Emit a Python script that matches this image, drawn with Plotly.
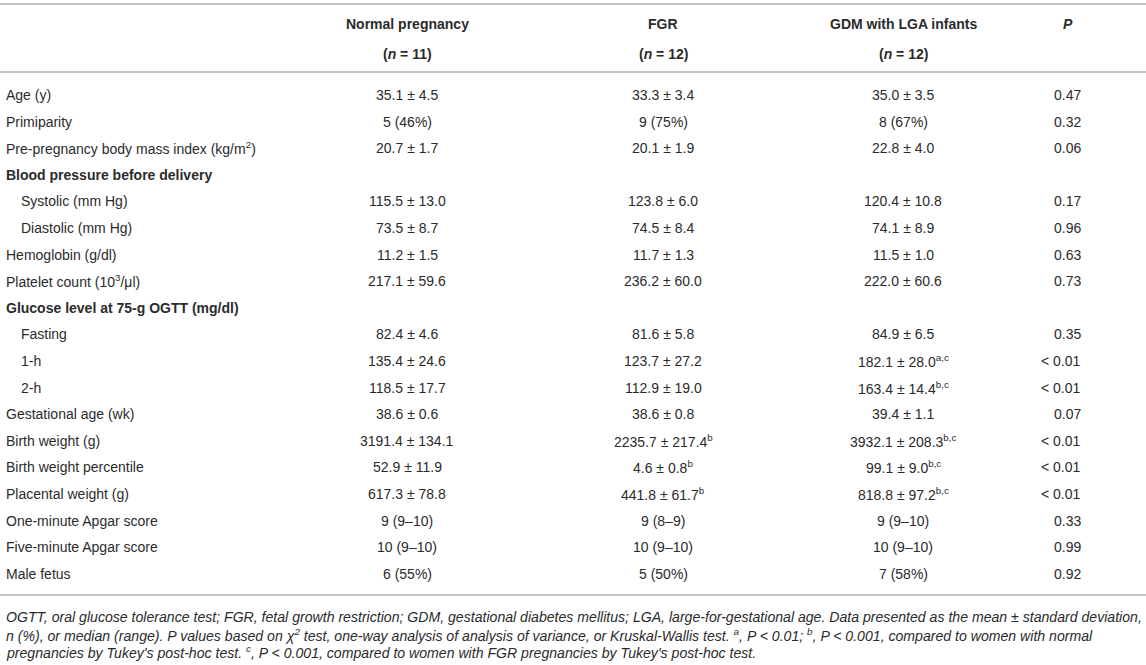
import plotly.graph_objects as go

# %% table content
col_headers = ["Normal pregnancy", "FGR", "GDM with LGA infants"]
col_counts = ["(<i>n</i> = 11)", "(<i>n</i> = 12)", "(<i>n</i> = 12)"]

row_labels = [
    "Age (y)",
    "Primiparity",
    "Pre-pregnancy body mass index (kg/m<sup>2</sup>)",
    "Blood pressure before delivery",
    "Systolic (mm Hg)",
    "Diastolic (mm Hg)",
    "Hemoglobin (g/dl)",
    "Platelet count (10<sup>3</sup>/μl)",
    "Glucose level at 75-g OGTT (mg/dl)",
    "Fasting",
    "1-h",
    "2-h",
    "Gestational age (wk)",
    "Birth weight (g)",
    "Birth weight percentile",
    "Placental weight (g)",
    "One-minute Apgar score",
    "Five-minute Apgar score",
    "Male fetus",
]
is_group = [0, 0, 0, 1, 0, 0, 0, 0, 1, 0, 0, 0, 0, 0, 0, 0, 0, 0, 0]
is_indented = [0, 0, 0, 0, 1, 1, 0, 0, 0, 1, 1, 1, 0, 0, 0, 0, 0, 0, 0]

normal = [
    "35.1 ± 4.5", "5 (46%)", "20.7 ± 1.7", "", "115.5 ± 13.0", "73.5 ± 8.7",
    "11.2 ± 1.5", "217.1 ± 59.6", "", "82.4 ± 4.6", "135.4 ± 24.6", "118.5 ± 17.7",
    "38.6 ± 0.6", "3191.4 ± 134.1", "52.9 ± 11.9", "617.3 ± 78.8",
    "9 (9–10)", "10 (9–10)", "6 (55%)",
]
fgr = [
    "33.3 ± 3.4", "9 (75%)", "20.1 ± 1.9", "", "123.8 ± 6.0", "74.5 ± 8.4",
    "11.7 ± 1.3", "236.2 ± 60.0", "", "81.6 ± 5.8", "123.7 ± 27.2", "112.9 ± 19.0",
    "38.6 ± 0.8", "2235.7 ± 217.4<sup>b</sup>", "4.6 ± 0.8<sup>b</sup>",
    "441.8 ± 61.7<sup>b</sup>", "9 (8–9)", "10 (9–10)", "5 (50%)",
]
gdm = [
    "35.0 ± 3.5", "8 (67%)", "22.8 ± 4.0", "", "120.4 ± 10.8", "74.1 ± 8.9",
    "11.5 ± 1.0", "222.0 ± 60.6", "", "84.9 ± 6.5", "182.1 ± 28.0<sup>a,c</sup>",
    "163.4 ± 14.4<sup>b,c</sup>", "39.4 ± 1.1", "3932.1 ± 208.3<sup>b,c</sup>",
    "99.1 ± 9.0<sup>b,c</sup>", "818.8 ± 97.2<sup>b,c</sup>",
    "9 (9–10)", "10 (9–10)", "7 (58%)",
]
p_values = [
    "0.47", "0.32", "0.06", "", "0.17", "0.96", "0.63", "0.73", "", "0.35",
    "< 0.01", "< 0.01", "0.07", "< 0.01", "< 0.01", "< 0.01", "0.33", "0.99", "0.92",
]

footnotes = [
    "OGTT, oral glucose tolerance test; FGR, fetal growth restriction; GDM, gestational diabetes mellitus; "
    "LGA, large-for-gestational age. Data presented as the mean ± standard deviation,",
    "n (%), or median (range). P values based on χ<sup>2</sup> test, one-way analysis of analysis of variance, "
    "or Kruskal-Wallis test. <sup>a</sup>, P < 0.01; <sup>b</sup>, P < 0.001, compared to women with normal",
    "pregnancies by Tukey's post-hoc test. <sup>c</sup>, P < 0.001, compared to women with FGR pregnancies "
    "by Tukey's post-hoc test.",
]

# %% layout constants (pixels)
W, H = 1146, 665
text_color = "#2b2b2b"
rule_color = "#c4c4c4"
font_family = "Liberation Sans, Arial, Helvetica, sans-serif"
col_x = [407, 663, 903]
p_x = 1083
label_x = 4
indent = 15
first_row_y = 95
row_h = 26.6
header_y = [24, 54]
rules_y = [4, 72, 595]
foot_y0, foot_h = 617, 17.5

fig = go.Figure()

# dummy trace so axes exist
fig.add_trace(go.Scatter(x=[0, W], y=[0, H], mode="markers",
                         marker=dict(opacity=0), hoverinfo="skip", showlegend=False))

def add_text(x, y, text, anchor="center", size=14, bold=False, italic=False, yanchor="middle"):
    if bold:
        text = f"<b>{text}</b>"
    if italic:
        text = f"<i>{text}</i>"
    fig.add_annotation(x=x, y=y, text=text, showarrow=False, xanchor=anchor,
                       yanchor=yanchor, xref="x", yref="y",
                       font=dict(size=size, color=text_color, family=font_family))

# header
for cx, head, cnt in zip(col_x, col_headers, col_counts):
    add_text(cx, header_y[0], head, bold=True)
    add_text(cx, header_y[1], cnt, bold=True)
add_text(p_x - 15, header_y[0], "<i>P</i>", bold=True)

# body
for i, label in enumerate(row_labels):
    y = first_row_y + i * row_h
    x0 = label_x + (indent if is_indented[i] else 0)
    add_text(x0, y, label, anchor="left", bold=bool(is_group[i]))
    for cx, vals in zip(col_x, [normal, fgr, gdm]):
        if vals[i]:
            add_text(cx, y, vals[i])
    if p_values[i]:
        add_text(p_x, y, p_values[i], anchor="right")

# horizontal rules
for ry in rules_y:
    fig.add_shape(type="line", x0=0, x1=W, y0=ry, y1=ry, xref="x", yref="y",
                  line=dict(color=rule_color, width=2))

# footnotes
for j, line in enumerate(footnotes):
    add_text(label_x, foot_y0 + j * foot_h, line, anchor="left", size=14.1, italic=True)

fig.update_xaxes(range=[0, W], visible=False, fixedrange=True)
fig.update_yaxes(range=[H, 0], visible=False, fixedrange=True)
fig.update_layout(
    width=W, height=H,
    margin=dict(l=0, r=0, t=0, b=0),
    plot_bgcolor="white", paper_bgcolor="white",
    showlegend=False,
)

fig.write_html("out.html", config={"displayModeBar": False},
               post_script="document.body.style.margin='0';document.body.style.overflow='hidden';")
